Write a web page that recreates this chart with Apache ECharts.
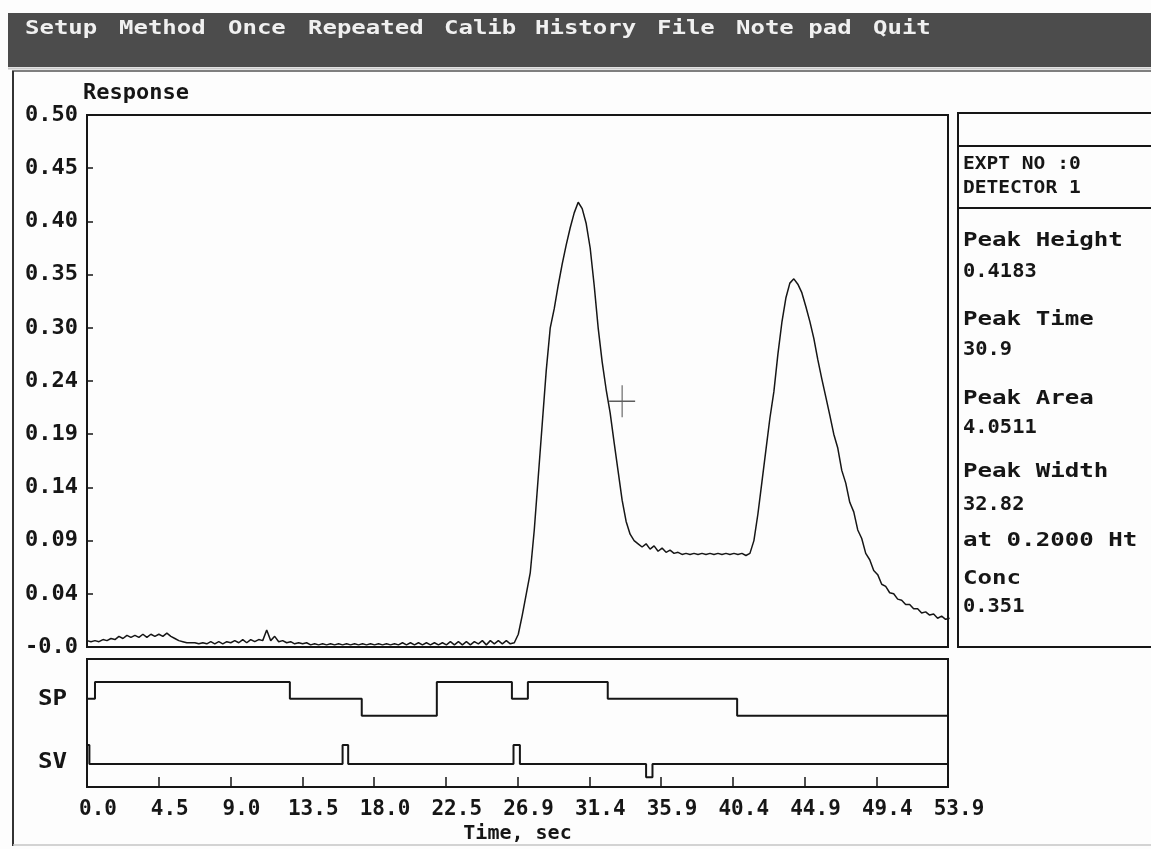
<!DOCTYPE html>
<html><head><meta charset="utf-8">
<script src="https://cdn.jsdelivr.net/npm/echarts@6/dist/echarts.min.js"></script>
<style>html,body{margin:0;padding:0;background:#fdfdfd}#c{width:1151px;height:849px}</style>
</head><body><div id="c"></div>
<script>
// ---------------- data ----------------
const timeStep = 0.25; // seconds between response samples
const responseValues = [
  0.006,0.005,0.006,0.005, 0.007,0.006,0.008,0.007, 0.010,0.008,0.011,0.009, 0.011,0.009,0.012,0.009,
  0.012,0.010,0.012,0.010, 0.013,0.010,0.008,0.006, 0.005,0.004,0.004,0.004, 0.003,0.004,0.003,0.005,
  0.003,0.005,0.003,0.005, 0.004,0.006,0.004,0.007, 0.004,0.007,0.005,0.007, 0.006,0.016,0.006,0.010,
  0.005,0.006,0.004,0.005, 0.003,0.004,0.003,0.004, 0.002,0.003,0.002,0.003, 0.002,0.003,0.002,0.003,
  0.002,0.003,0.002,0.003, 0.002,0.003,0.002,0.003, 0.002,0.003,0.002,0.003, 0.002,0.003,0.002,0.004,
  0.002,0.004,0.002,0.004, 0.002,0.004,0.002,0.004, 0.002,0.004,0.002,0.005, 0.002,0.005,0.002,0.005,
  0.002,0.005,0.003,0.006, 0.002,0.006,0.003,0.006, 0.003,0.006,0.003,0.004, 0.012,0.030,0.050,0.070,
  0.110,0.160,0.210,0.260, 0.300,0.318,0.340,0.360, 0.378,0.394,0.408,0.418, 0.412,0.398,0.375,0.340,
  0.300,0.268,0.242,0.220, 0.192,0.165,0.138,0.118, 0.106,0.100,0.097,0.094, 0.097,0.092,0.095,0.090,
  0.093,0.089,0.091,0.088, 0.089,0.087,0.088,0.087, 0.088,0.087,0.088,0.087, 0.088,0.087,0.088,0.087,
  0.088,0.087,0.088,0.087, 0.088,0.086,0.088,0.100, 0.125,0.155,0.185,0.215, 0.240,0.275,0.305,0.328,
  0.342,0.346,0.341,0.333, 0.320,0.306,0.290,0.270, 0.252,0.235,0.218,0.200, 0.187,0.166,0.154,0.136,
  0.127,0.110,0.102,0.088, 0.082,0.072,0.068,0.059, 0.057,0.051,0.050,0.045, 0.044,0.040,0.040,0.036,
  0.036,0.032,0.033,0.030, 0.031,0.027,0.029,0.026, 0.027
];
const yTickLabels = ['-0.0','0.04','0.09','0.14','0.19','0.24','0.30','0.35','0.40','0.45','0.50'];
const xTickLabels = ['0.0','4.5','9.0','13.5','18.0','22.5','26.9','31.4','35.9','40.4','44.9','49.4','53.9'];
const spTimes  = [0, 0.5, 12.7, 17.2, 21.9, 26.6, 27.6, 32.6, 40.7, 53.9];
const spLevels = [1, 2,   1,    0,    2,    1,    2,    1,    0,    0];
const svTimes  = [0, 0.15, 16.0, 16.35, 26.7, 27.1, 35.0, 35.4, 53.9];
const svLevels = [1, 0,    1,    0,     1,    0,    -0.7, 0,    0];
const cursorPoint = [33.5, 0.231];
const menuItems = ['Setup','Method','Once','Repeated','Calib','History','File','Note pad','Quit'];
const exptLines = ['EXPT NO :0','DETECTOR 1'];
const infoLines = ['Peak Height','0.4183','Peak Time','30.9','Peak Area','4.0511','Peak Width','32.82','at 0.2000 Ht','Conc','0.351'];
const infoKinds = ['L','V','L','V','L','V','L','V','L','L','V'];

// ---------------- layout / style ----------------
const xMax = 53.9, xStep = xMax / 12;
const yStep = 0.05;
const MONO = "'DejaVu Sans Mono', monospace";
const INK = '#161616';
const menuX = [25, 119, 228, 308, 444, 535, 657, 736, 873];
const exptY = [165, 189];
const infoY = [241, 272, 320, 350, 399, 428, 472, 505, 541, 579, 607];

const responseData = responseValues.map((v, i) => [i * timeStep, v]);
const spData = spTimes.map((t, i) => [t, spLevels[i]]);
const svData = svTimes.map((t, i) => [t, svLevels[i]]);

const graphics = [
  {type:'rect', shape:{x:8, y:13, width:1143, height:54}, style:{fill:'#4c4c4c'}, z:-1},
  {type:'line', shape:{x1:8, y1:68.5, x2:1151, y2:68.5}, style:{stroke:'#c8c8c8', lineWidth:2}},
  {type:'line', shape:{x1:12, y1:71, x2:1151, y2:71}, style:{stroke:'#555', lineWidth:1.5}},
  {type:'line', shape:{x1:13, y1:71, x2:13, y2:846}, style:{stroke:'#333', lineWidth:2}},
  {type:'line', shape:{x1:13, y1:845, x2:1151, y2:845}, style:{stroke:'#c4c4c4', lineWidth:1.5}},
  // info panel frame
  {type:'rect', shape:{x:958, y:113, width:200, height:534}, style:{fill:'none', stroke:INK, lineWidth:2}},
  {type:'line', shape:{x1:958, y1:146, x2:1151, y2:146}, style:{stroke:INK, lineWidth:2}},
  {type:'line', shape:{x1:958, y1:208, x2:1151, y2:208}, style:{stroke:INK, lineWidth:2}},
  // SP / SV labels
  {type:'text', x:38, y:700, scaleX:1.15, style:{text:'SP', font:"bold 21px " + MONO, fill:INK, verticalAlign:'middle'}},
  {type:'text', x:38, y:763, scaleX:1.15, style:{text:'SV', font:"bold 21px " + MONO, fill:INK, verticalAlign:'middle'}}
];
menuItems.forEach((m, i) => graphics.push({
  type:'text', x:menuX[i], y:29, scaleX:1.2,
  style:{text:m, font:"bold 20px " + MONO, fill:'#f0f0f0', verticalAlign:'middle'}
}));
exptLines.forEach((s, i) => graphics.push({
  type:'text', x:963, y:exptY[i], scaleX:1.15,
  style:{text:s, font:"bold 17px " + MONO, fill:INK, verticalAlign:'middle'}
}));
infoLines.forEach((s, i) => graphics.push({
  type:'text', x:963, y:infoY[i], scaleX: infoKinds[i] === 'L' ? 1.27 : 1.02,
  style:{text:s, font:(infoKinds[i] === 'L' ? "bold 19px " : "bold 20px ") + MONO, fill:INK, verticalAlign:'middle'}
}));

const chart = echarts.init(document.getElementById('c'), null, {renderer:'canvas'});
chart.setOption({
  animation:false,
  backgroundColor:'#fdfdfd',
  grid:[
    {left:87, top:115, width:861, height:532, show:true, borderColor:INK, borderWidth:2, backgroundColor:'transparent'},
    {left:87, top:659, width:861, height:128, show:true, borderColor:INK, borderWidth:2, backgroundColor:'transparent'}
  ],
  xAxis:[
    {type:'value', gridIndex:0, min:0, max:xMax, interval:xStep,
     axisLine:{show:false, onZero:false}, axisTick:{show:false}, axisLabel:{show:false}, splitLine:{show:false}},
    {type:'value', gridIndex:1, min:0, max:xMax, interval:xStep, position:'bottom',
     name:'Time, sec', nameLocation:'middle', nameGap:37,
     nameTextStyle:{fontFamily:MONO, fontWeight:'bold', fontSize:20, color:INK},
     axisLine:{show:false, onZero:false},
     axisTick:{show:true, inside:true, length:10, lineStyle:{color:INK, width:1.5}},
     axisLabel:{show:true, margin:12, fontFamily:MONO, fontWeight:'bold', fontSize:21, color:INK,
       padding:[0,0,0,22],
       formatter:v => xTickLabels[Math.round(v / xStep)]},
     splitLine:{show:false}}
  ],
  yAxis:[
    {type:'value', gridIndex:0, min:0, max:0.5, interval:yStep,
     name:'Response', nameLocation:'end', nameGap:17,
     nameTextStyle:{fontFamily:MONO, fontWeight:'bold', fontSize:22, color:INK, align:'left', verticalAlign:'middle', padding:[0,0,0,-4]},
     axisLine:{show:false, onZero:false},
     axisTick:{show:true, inside:true, length:6, lineStyle:{color:INK, width:1.5}},
     axisLabel:{show:true, margin:9, fontFamily:MONO, fontWeight:'bold', fontSize:22, color:INK,
       formatter:v => yTickLabels[Math.round(v / yStep)]},
     splitLine:{show:false}},
    {type:'value', gridIndex:1, min:-4.2, max:3.35, show:false},
    {type:'value', gridIndex:1, min:-1.21, max:5.53, show:false}
  ],
  series:[
    {type:'line', name:'Response', xAxisIndex:0, yAxisIndex:0, data:responseData,
     showSymbol:false, lineStyle:{color:INK, width:1.5}, silent:true},
    {type:'scatter', xAxisIndex:0, yAxisIndex:0, data:[cursorPoint],
     symbol:'path://M0,0 L0,32 M-13,16 L13,16', symbolSize:[26,32],
     itemStyle:{color:'none', borderColor:'#333', borderWidth:1.2}, silent:true},
    {type:'line', name:'SP', xAxisIndex:1, yAxisIndex:1, data:spData, step:'end',
     showSymbol:false, lineStyle:{color:INK, width:2}, silent:true},
    {type:'line', name:'SV', xAxisIndex:1, yAxisIndex:2, data:svData, step:'end',
     showSymbol:false, lineStyle:{color:INK, width:2}, silent:true}
  ],
  graphic:graphics
});
</script>
</body></html>
